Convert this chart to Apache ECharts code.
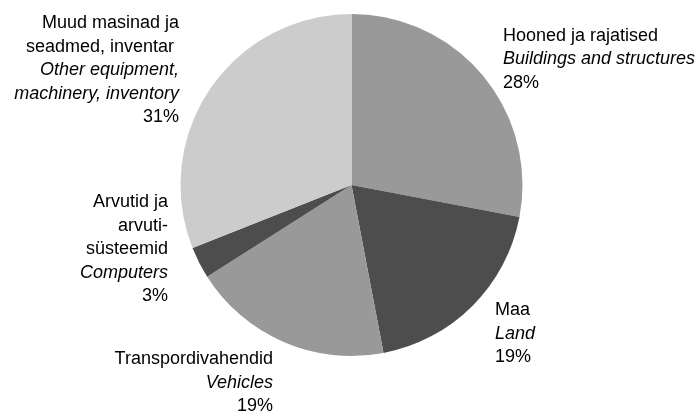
<!DOCTYPE html>
<html>
<head>
<meta charset="utf-8">
<script src="https://cdn.jsdelivr.net/npm/echarts@6/dist/echarts.min.js"></script>
<style>
  html, body { margin: 0; padding: 0; background: #ffffff; }
  #chart { width: 698px; height: 414px; }
</style>
</head>
<body>
<div id="chart"></div>
<script>
// Fixed-asset structure, clockwise from 12 o'clock
const namesEt = ['Hooned ja rajatised', 'Maa', 'Transpordivahendid', 'Arvutid ja\narvuti-\nsüsteemid', 'Muud masinad ja\nseadmed, inventar '];
const namesEn = ['Buildings and structures', 'Land', 'Vehicles', 'Computers', 'Other equipment,\nmachinery, inventory'];
const shares = [28, 19, 19, 3, 31];
const sliceColors = ['#999999', '#4d4d4d', '#999999', '#4d4d4d', '#cccccc'];

// Where each label block sits: [x, top, align]
const labelAnchors = [
  [503, 24, 'left'],
  [495, 298.5, 'left'],
  [273, 347.5, 'right'],
  [168, 190.5, 'right'],
  [179, 11.5, 'right']
];

const FONT = 'Liberation Sans, Arial, Helvetica, sans-serif';

function richLines(text, style) {
  return text.split('\n').map(l => '{' + style + '|' + l + '}').join('\n');
}

const data = shares.map((v, i) => ({
  value: v,
  name: namesEn[i],
  itemStyle: { color: sliceColors[i] },
  label: { align: labelAnchors[i][2] }
}));

const chart = echarts.init(document.getElementById('chart'), null, { renderer: 'canvas' });
chart.setOption({
  animation: false,
  series: [{
    type: 'pie',
    center: [351.5, 185],
    radius: [0, 171],
    startAngle: 90,
    clockwise: true,
    silent: true,
    avoidLabelOverlap: false,
    data: data,
    itemStyle: { borderWidth: 0 },
    labelLine: { show: false },
    label: {
      show: true,
      position: 'outside',
      verticalAlign: 'top',
      overflow: 'none',
      color: '#000000',
      fontFamily: FONT,
      fontSize: 18,
      lineHeight: 23.5,
      formatter: p => {
        const i = p.dataIndex;
        return richLines(namesEt[i], 'n') + '\n' + richLines(namesEn[i], 'e') + '\n{n|' + shares[i] + '%}';
      },
      rich: {
        n: { fontFamily: FONT, fontSize: 18, lineHeight: 23.5, color: '#000000' },
        e: { fontFamily: FONT, fontSize: 18, lineHeight: 23.5, fontStyle: 'italic', color: '#000000' }
      }
    },
    labelLayout: p => {
      const a = labelAnchors[p.dataIndex];
      return { x: a[0], y: a[1], align: a[2], verticalAlign: 'top', hideOverlap: false };
    }
  }]
});
</script>
</body>
</html>
